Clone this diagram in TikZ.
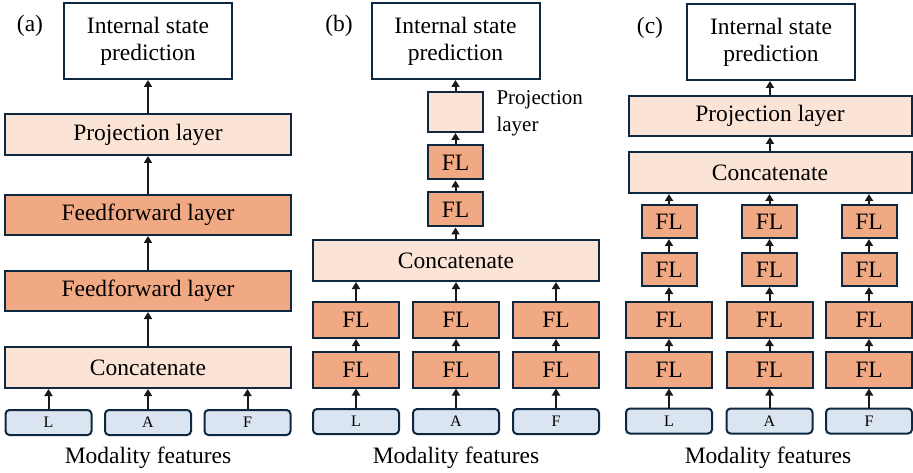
\documentclass[tikz,border=0pt]{standalone}
\usepackage{fontspec}
\setmainfont{Liberation Serif}
\usetikzlibrary{arrows.meta}

\definecolor{edgeblue}{HTML}{0E2841}
\definecolor{peach}{HTML}{FBE3D6}
\definecolor{salmon}{HTML}{F1A983}
\definecolor{featblue}{HTML}{DAE5F1}

\begin{document}
\begin{tikzpicture}[x=1pt, y=-1pt,
    base/.style={draw=edgeblue, line width=2pt, inner sep=0pt, font=\fontsize{23.5}{27}\selectfont},
    predbox/.style={base, fill=white, minimum width=168pt, minimum height=76pt, align=center},
    widebox/.style={base, fill=peach, minimum width=286pt, minimum height=41pt},
    ffbox/.style={base, fill=salmon, minimum width=286pt, minimum height=40pt},
    flbox/.style={base, fill=salmon, minimum width=86pt, minimum height=36pt},
    smallfl/.style={base, fill=salmon, minimum width=55pt, minimum height=34pt},
    featbox/.style={base, fill=featblue, rounded corners=4pt, minimum width=86pt, minimum height=25pt, font=\fontsize{16}{18}\selectfont},
    arr/.style={-{Triangle[length=7pt,width=8pt]}, line width=2pt, black!90},
    caption/.style={font=\fontsize{23.5}{27}\selectfont}]

  \useasboundingbox (0,0) rectangle (913,473);

  % ---------------- Panel (a): early fusion ----------------
  \node[caption] (tag_a) at (30,26) {(a)};
  \node[predbox] (pred_a) at (148,41) {Internal state\\prediction};
  \node[widebox] (proj_a) at (148,134.5) {Projection layer};
  \node[ffbox] (ff2_a) at (148,215) {Feedforward layer};
  \node[ffbox] (ff1_a) at (148,291) {Feedforward layer};
  \node[widebox] (cat_a) at (148,367.5) {Concatenate};
  \foreach \m/\x in {L/48.5, A/148, F/247.5} {
    \node[featbox] (feat_a\m) at (\x,422.5) {\m};
    \draw[arr] (feat_a\m.north) -- (feat_a\m.north |- cat_a.south);
  }
  \node[caption] (mod_a) at (148,458) {Modality features};

  \draw[arr] (cat_a.north) -- (ff1_a.south);
  \draw[arr] (ff1_a.north) -- (ff2_a.south);
  \draw[arr] (ff2_a.north) -- (proj_a.south);
  \draw[arr] (proj_a.north) -- (pred_a.south);

  % ---------------- Panel (b): intermediate fusion ----------------
  \node[caption] (tag_b) at (339,26) {(b)};
  \node[predbox] (pred_b) at (455.5,41) {Internal state\\prediction};
  \node[base, fill=peach, minimum width=55pt, minimum height=40pt] (proj_b) at (455.5,112) {};
  \node[anchor=west, align=left, font=\fontsize{21}{27}\selectfont] (projlbl_b) at (493,113) {Projection\\layer};
  \node[smallfl] (fl4_b) at (455.5,162.5) {FL};
  \node[smallfl] (fl3_b) at (455.5,209.5) {FL};
  \node[widebox] (cat_b) at (456,260.5) {Concatenate};
  \foreach \m/\x in {L/356, A/456, F/556} {
    \node[featbox] (feat_b\m) at (\x,421.5) {\m};
    \node[flbox] (fl1_b\m) at (\x,369.5) {FL};
    \node[flbox] (fl2_b\m) at (\x,320) {FL};
    \draw[arr] (feat_b\m.north) -- (fl1_b\m.south);
    \draw[arr] (fl1_b\m.north) -- (fl2_b\m.south);
    \draw[arr] (fl2_b\m.north) -- (fl2_b\m.north |- cat_b.south);
  }
  \node[caption] (mod_b) at (456,458) {Modality features};

  \draw[arr] (cat_b.north -| fl3_b) -- (fl3_b.south);
  \draw[arr] (fl3_b.north) -- (fl4_b.south);
  \draw[arr] (fl4_b.north) -- (proj_b.south);
  \draw[arr] (proj_b.north) -- (pred_b.south);

  % ---------------- Panel (c): late fusion ----------------
  \node[caption] (tag_c) at (650,28) {(c)};
  \node[predbox] (pred_c) at (771,42) {Internal state\\prediction};
  \node[widebox, minimum width=283pt, minimum height=40pt] (proj_c) at (770,116) {Projection layer};
  \node[widebox, minimum width=283pt] (cat_c) at (770,172.5) {Concatenate};
  \foreach \m/\x in {L/669, A/769.5, F/869} {
    \node[featbox] (feat_c\m) at (\x,421) {\m};
    \node[flbox] (fl1_c\m) at (\x,369.5) {FL};
    \node[flbox] (fl2_c\m) at (\x,320) {FL};
    \node[smallfl, minimum height=33pt] (fl3_c\m) at (\x,269.5) {FL};
    \node[smallfl, minimum height=33pt] (fl4_c\m) at (\x,221.5) {FL};
    \draw[arr] (feat_c\m.north) -- (fl1_c\m.south);
    \draw[arr] (fl1_c\m.north) -- (fl2_c\m.south);
    \draw[arr] (fl2_c\m.north) -- (fl3_c\m.south);
    \draw[arr] (fl3_c\m.north) -- (fl4_c\m.south);
    \draw[arr] (fl4_c\m.north) -- (fl4_c\m.north |- cat_c.south);
  }
  \node[caption] (mod_c) at (768,458) {Modality features};

  \draw[arr] (cat_c.north) -- (proj_c.south);
  \draw[arr] (proj_c.north) -- (proj_c.north |- pred_c.south);
\end{tikzpicture}
\end{document}
